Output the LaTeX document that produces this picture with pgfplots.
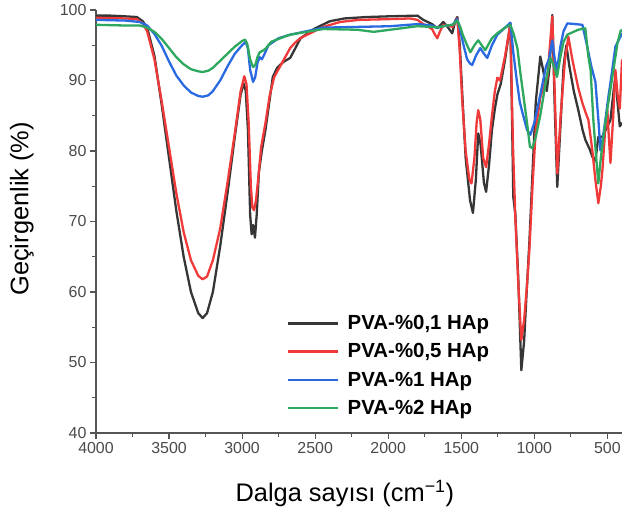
\documentclass[border=0pt]{standalone}
\usepackage{fontspec}
\setmainfont{Liberation Sans}
\usepackage{pgfplots}
\usepackage{pgfplotstable}
\pgfplotsset{compat=1.18}
\definecolor{cblack}{HTML}{363636}
\definecolor{cred}{HTML}{F03A3A}
\definecolor{cblue}{HTML}{2A6AE0}
\definecolor{cgreen}{HTML}{2EA85E}
\definecolor{axgray}{HTML}{555555}
\definecolor{tickgray}{HTML}{4A4A4A}

\pgfplotstableread{
x y
4000 99.2
3900 99.2
3800 99.1
3720 99.0
3680 98.4
3650 97.5
3600 93.5
3550 86.5
3500 79
3450 71.5
3400 65
3350 60
3300 57
3270 56.3
3240 57
3200 60
3150 66.5
3100 74
3050 82
3010 88
2990 89.6
2975 88.5
2960 83
2945 71
2935 68.2
2925 69.5
2912 67.7
2900 71
2885 77
2865 80
2840 83
2810 87.5
2790 90.5
2760 91.8
2720 92.6
2671 93.2
2630 94.8
2600 96
2500 97.4
2400 98.4
2300 98.8
2150 99.0
2000 99.1
1800 99.2
1760 98.6
1700 98.0
1664 97.4
1623 98.3
1590 97.5
1562 96.7
1540 98.5
1527 99.0
1510 95
1493 88
1470 79
1440 73
1420 71.2
1400 76
1384 82.5
1368 81
1345 75.5
1330 74.2
1310 78
1290 83
1270 86
1253 88
1230 89.5
1200 93
1164 98.1
1152 84
1144 73.5
1130 71
1110 62
1089 48.9
1070 53
1050 61
1034 67
1010 78
990 87
959 93.4
940 91.5
915 88.5
895 92
877 99.3
860 86
843 74.9
820 84
800 92
781 95.0
760 92
730 88.5
699 85.8
670 83
651 81.6
620 80.2
603 79.2
582 78.6
562 82
534 82
500 83.5
479 84.4
455 89
445 90.5
430 86.8
415 83.5
400 84
}\tblack

\pgfplotstableread{
x y
4000 98.9
3800 98.8
3720 98.7
3680 98.1
3650 97
3600 93
3550 87
3500 80.5
3450 74
3400 68.5
3350 64.5
3300 62.3
3270 61.8
3240 62.2
3200 64.5
3150 69
3100 75.5
3050 82.5
3010 88.5
2985 90.6
2970 89.5
2955 84
2940 75
2930 72
2918 71.6
2905 73
2890 76
2870 80.5
2840 84
2810 88
2780 90.5
2740 92
2700 93.5
2671 94.6
2640 95.3
2603 96
2534 96.7
2445 97.6
2329 98.3
2200 98.6
2000 98.7
1850 98.8
1800 98.6
1760 98
1700 97.3
1680 96.5
1664 96
1645 97
1623 97.9
1590 97.8
1560 97.6
1527 98.8
1510 94
1493 87
1470 80
1445 76
1430 75.4
1410 79
1395 84
1384 85.8
1370 84.5
1350 79
1330 77.7
1310 81
1290 85
1270 88.5
1253 90.4
1235 90
1200 93.5
1164 98
1152 86
1145 80
1130 70.6
1110 61.3
1089 53.2
1070 56
1050 61
1034 66
1010 76
990 83
960 87.5
930 89.5
911 90.4
877 99.1
860 88
843 76.8
820 85
790 93
767 96.2
740 93
700 89
671 86.8
650 85.5
630 84.4
603 80.1
582 75.9
562 72.6
545 75
534 77.3
515 83
500 85.8
490 82
479 78.3
460 85
445 91.5
430 88
415 86
400 93
}\tred

\pgfplotstableread{
x y
4000 98.6
3800 98.5
3700 98.3
3650 97.8
3600 96.6
3550 94.9
3500 92.7
3450 90.7
3400 89.3
3350 88.3
3300 87.8
3270 87.7
3230 87.9
3200 88.5
3150 90
3100 92
3050 93.8
3000 95
2975 95.5
2960 94.5
2945 91.5
2925 89.8
2910 90.5
2895 92.5
2880 93.3
2865 93.0
2850 93.6
2820 95
2750 96
2671 96.5
2600 96.8
2445 97.5
2212 97.6
1986 97.7
1800 98.0
1700 97.8
1664 97.5
1600 97.8
1560 97.9
1527 98.7
1505 97
1490 95.5
1460 93
1440 92.4
1425 92.2
1400 93.5
1370 94.6
1345 93.8
1322 93.2
1290 95
1253 96.5
1200 97.5
1164 98.2
1144 94
1120 90
1100 87
1082 85.5
1050 83
1027 82.3
1000 84
959 88
920 92
900 93
877 95.7
860 93
845 91.5
820 95
800 97
774 98.1
720 98
671 97.9
640 95
610 92
582 89.8
560 84
548 80.1
530 82
510 85
493 87.7
470 91
445 94.8
411 96.2
400 96.7
}\tblue

\pgfplotstableread{
x y
4000 97.9
3800 97.8
3700 97.8
3650 97.5
3600 96.9
3550 95.9
3500 94.6
3450 93.3
3400 92.3
3350 91.6
3300 91.3
3270 91.2
3230 91.4
3200 91.8
3150 92.8
3100 93.8
3050 94.8
3000 95.6
2980 95.8
2965 95.2
2945 93
2925 91.9
2910 92.2
2895 93.3
2880 94
2860 94.2
2840 94.5
2800 95.5
2700 96.3
2671 96.5
2445 97.3
2212 97.2
2100 96.9
1986 97.2
1801 97.7
1700 97.6
1664 97.5
1600 97.8
1560 97.9
1527 98.5
1505 97.5
1490 96.5
1460 95
1438 94
1410 95
1384 95.7
1360 95
1336 94.3
1290 96
1253 96.7
1200 97.5
1164 97.9
1140 96.5
1116 94.6
1095 91
1075 87.9
1050 84
1030 80.6
1014 80.4
990 82
959 85.1
920 90
890 93.2
865 92
845 90.5
820 93.5
800 95.5
774 96.5
700 97.2
651 97.4
630 93.4
615 91.5
596 84.4
580 80
562 75.4
545 79
527 82
500 86
466 90.5
431 95.3
410 97
400 97.2
}\tgreen

\begin{document}
\begin{tikzpicture}
\begin{axis}[
  name=ax,
  scale only axis,
  width=526bp, height=423bp,
  x dir=reverse,
  xmin=400, xmax=4000, ymin=40, ymax=100,
  enlargelimits=false,
  axis lines=left,
  axis line style={-, line width=1.4bp, color=axgray},
  xtick={500,1000,...,4000},
  ytick={40,50,...,100},
  minor x tick num=1, minor y tick num=1,
  tick align=outside,
  major tick length=6bp, minor tick length=4bp,
  every tick/.style={line width=1.2bp, color=axgray},
  tick label style={font=\fontsize{16}{16}\selectfont, text=tickgray},
  /pgf/number format/assume math mode=true,
  /pgf/number format/1000 sep={},
  xlabel={Dalga sayısı (cm\textsuperscript{−1})},
  ylabel={Geçirgenlik (\%)},
  label style={font=\fontsize{25.5}{25.5}\selectfont},
  xlabel style={at={(axis description cs:0.473,-0.142)}, anchor=center},
  ylabel style={at={(axis description cs:-0.1407,0.53)}, anchor=center},
  legend style={at={(axis description cs:0.363,0.283)}, anchor=north west,
    draw=none, fill=none, font=\fontsize{20.5}{20.5}\selectfont\bfseries,
    row sep=8.5bp, inner sep=0pt,
    /tikz/every odd column/.append style={column sep=6bp}},
  legend cell align=left,
  legend image code/.code={\draw[#1, line width=2.6bp] (0bp,0bp) -- (50bp,0bp);},
  every axis plot/.append style={line width=2.3bp, line join=round},
]
\addplot[cblack] table[x=x,y=y]{\tblack};
\addlegendentry{PVA-\%0,1 HAp}
\addplot[cred] table[x=x,y=y]{\tred};
\addlegendentry{PVA-\%0,5 HAp}
\addplot[cblue] table[x=x,y=y]{\tblue};
\addlegendentry{PVA-\%1 HAp}
\addplot[cgreen] table[x=x,y=y]{\tgreen};
\addlegendentry{PVA-\%2 HAp}
\end{axis}
\pgfresetboundingbox
\path[use as bounding box] ([shift={(-96bp,-88bp)}]ax.south west) rectangle ([shift={(2bp,10bp)}]ax.north east);
\end{tikzpicture}
\end{document}
